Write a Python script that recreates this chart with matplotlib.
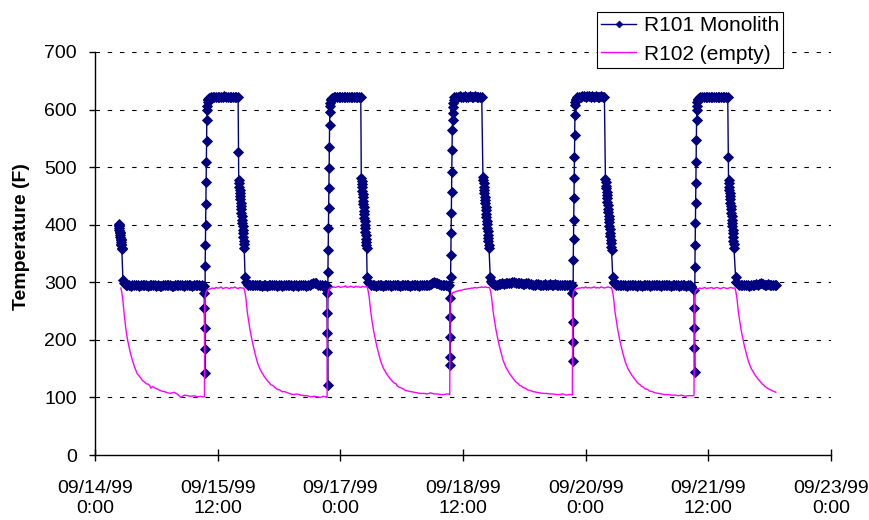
import numpy as np
import matplotlib
matplotlib.use("Agg")
import matplotlib.pyplot as plt

# ---------------------------------------------------------------------------
# Logged reactor temperatures, hours after 09/14/99 0:00, temperature in F.
# Each segment is (start hour, step in hours or list of offsets, readings).
# ---------------------------------------------------------------------------

# R101 monolith: low plateaus (half-hour readings)
r101_low1 = [296, 295, 295, 294, 295, 296, 295, 295, 294, 295,
             296, 295, 295, 294, 295, 295, 296, 295, 294, 295,
             294, 294, 295, 296, 295, 295, 295, 294, 294, 295,
             295, 296, 295, 295, 294, 295, 296, 295, 295, 294,
             295, 296, 295, 295, 294, 295, 294]
r101_low2 = [296, 295, 295, 296, 295, 295, 296, 295, 294, 295,
             295, 294, 295, 295, 296, 295, 295, 294, 295, 295,
             294, 295, 295, 296, 295, 295, 294, 295, 295, 294,
             295, 296, 295, 295, 294, 295, 296, 297, 298, 299,
             298, 296, 295, 295, 294, 295, 294]
r101_low3 = [296, 295, 295, 294, 295, 295, 295, 294, 295, 296,
             295, 295, 294, 295, 296, 295, 295, 294, 295, 295,
             296, 295, 295, 294, 295, 296, 295, 295, 294, 295,
             295, 296, 295, 296, 295, 297, 299, 300, 299, 298,
             297, 296, 296, 295, 295, 294, 295]
r101_low4 = [297, 296, 296, 297, 297, 298, 297, 298, 298, 299,
             299, 300, 300, 299, 299, 298, 298, 297, 297, 298,
             298, 297, 297, 296, 296, 297, 297, 296, 296, 296,
             297, 296, 296, 297, 296, 296, 297, 296, 296, 295,
             296, 296, 295, 296, 295, 295, 295]
r101_low5 = [296, 295, 295, 296, 295, 295, 294, 295, 295, 295,
             296, 295, 294, 295, 295, 294, 295, 296, 295, 295,
             294, 295, 295, 296, 295, 295, 294, 295, 295, 296,
             295, 295, 294, 295, 295, 296, 295, 294, 295, 295,
             295, 294, 295, 295, 294]
r101_low6 = [296, 295, 295, 296, 295, 295, 294, 295, 295, 296,
             297, 296, 297, 298, 297, 296, 296, 297, 296, 296,
             295, 296, 296]

# hot plateaus
r101_top1 = [620, 621, 621, 622, 621, 622, 622, 621, 622, 623, 622, 621,
             622, 622, 621, 622, 621, 621]
r101_top2 = [620, 621, 622, 621, 622, 622, 621, 622, 622, 621, 622, 621,
             622, 621, 622, 621, 622, 621]
r101_top3 = [621, 622, 622, 623, 622, 622, 623, 622, 622, 623, 622, 622,
             623, 622, 622, 621, 622]
r101_top4 = [621, 622, 622, 623, 623, 622, 623, 623, 622, 623, 622, 623,
             622, 622, 623, 622, 622]
r101_top5 = [620, 621, 621, 622, 621, 622, 621, 622, 622, 621, 622, 621,
             621, 622, 621, 622, 621, 621]

# cool-down after each hot period
r101_cool1 = [527, 477, 472, 466, 461, 455, 450, 444, 438, 433, 427, 421,
              415, 409, 403, 397, 391, 385, 378, 372, 366, 359]
r101_cool2 = [481, 476, 470, 465, 459, 453, 448, 442, 436, 430, 424, 418,
              412, 406, 400, 394, 388, 382, 376, 370, 364, 359]
r101_cool3 = [483, 477, 472, 466, 460, 455, 449, 443, 437, 431, 425, 419,
              413, 407, 401, 395, 389, 383, 377, 371, 365, 359]
r101_cool4 = [479, 474, 468, 463, 457, 451, 446, 440, 434, 428, 422, 416,
              410, 404, 398, 392, 386, 380, 374, 368, 362, 356]
r101_cool5 = [517, 477, 472, 466, 461, 455, 450, 444, 438, 433, 427, 421,
              415, 409, 403, 397, 391, 385, 378, 372, 366, 359]

r101_segments = [
    (6.9, 0.065, [402, 400, 397, 394, 391, 388, 385, 382, 379, 376, 373,
                  370, 367, 364, 360, 357]),
    (8.2, 0.3, [304, 299]),
    (9.0, 0.5, r101_low1),
    (32.05, 0.05, [281, 255, 220, 184, 143]),
    (32.33, 0.07, [328, 364, 399, 436, 474, 509, 545, 582, 599]),
    (32.97, 0.1, [607, 613, 617, 619]),
    (33.5, 0.5, r101_top1),
    (42.1, 0.08, r101_cool1),
    (44.05, 0.25, [309, 301, 298]),
    (45.0, 0.5, r101_low2),
    (68.08, 0.05, [281, 247, 212, 179, 122]),
    (68.36, 0.07, [318, 356, 394, 429, 464, 498, 535, 573, 595]),
    (69.0, 0.1, [606, 612, 616, 619]),
    (69.5, 0.5, r101_top2),
    (78.15, 0.075, r101_cool2),
    (79.85, 0.25, [309, 301, 298]),
    (81.0, 0.5, r101_low3),
    (104.08, 0.05, [273, 240, 205, 170, 156]),
    (104.36, 0.07, [309, 347, 385, 420, 457, 491, 529, 564, 582]),
    (105.0, 0.1, [594, 605, 612, 617]),
    (105.5, 0.5, r101_top3),
    (113.85, 0.085, r101_cool3),
    (116.0, 0.25, [309, 302, 299]),
    (117.0, 0.5, r101_low4),
    (140.08, 0.05, [295, 281, 231, 196, 163]),
    (140.36, 0.07, [339, 375, 408, 446, 481, 517, 556, 590, 608]),
    (141.0, 0.1, [613, 617, 619]),
    (141.5, 0.5, r101_top4),
    (149.8, 0.085, r101_cool4),
    (151.95, 0.25, [309, 301, 298]),
    (153.0, 0.5, r101_low5),
    (175.78, 0.05, [287, 255, 220, 186, 144]),
    (176.06, 0.07, [326, 365, 403, 438, 472, 509, 547, 582, 599]),
    (176.7, 0.1, [607, 613, 617, 619]),
    (177.2, 0.5, r101_top5),
    (185.85, 0.08, r101_cool5),
    (188.0, 0.25, [309, 301, 298]),
    (189.0, 0.5, r101_low6),
]

# R102 empty reactor: cool-down curves are logged on this offset schedule
decay_offsets = [0, 0.3, 0.6, 1.0, 1.4, 1.8, 2.3, 2.8, 3.4, 4.0, 4.8, 5.4,
                 5.9, 6.4, 6.9, 7.4, 7.9, 8.4, 8.8, 9.3, 9.8, 10.5, 11.2,
                 12.0, 12.8, 13.7, 14.6, 15.6, 16.7, 17.6, 18.6, 19.6, 20.6,
                 21.5, 22.5, 23.3, 24.0]

r102_decay0 = [290, 281, 268, 242, 222, 205, 190, 177, 164, 153, 141, 137,
               133, 129, 127, 124, 123, 121, 116, 119, 117, 115, 113, 111,
               110, 108, 107, 109, 105, 100, 104, 103, 102, 103, 101, 102,
               101]
r102_decay1 = [290, 283, 272, 248, 232, 217, 202, 188, 173, 160, 148, 142,
               137, 133, 129, 126, 122, 121, 119, 116, 114, 113, 110, 110,
               108, 106, 105, 106, 104, 103, 103, 101, 102, 101, 100, 102,
               101]
r102_decay2 = [292, 284, 273, 250, 233, 218, 203, 189, 175, 162, 150, 144,
               139, 135, 131, 128, 125, 124, 120, 118, 117, 115, 112, 111,
               110, 109, 108, 107, 107, 106, 108, 106, 106, 105, 105, 106,
               106]
r102_decay3 = [291, 284, 273, 251, 235, 220, 205, 191, 177, 164, 152, 146,
               141, 137, 133, 129, 126, 124, 121, 120, 117, 116, 113, 112,
               110, 109, 108, 107, 107, 106, 106, 105, 105, 106, 104, 105,
               105]
r102_decay4 = [291, 283, 272, 249, 233, 218, 203, 189, 175, 162, 150, 144,
               139, 135, 131, 127, 124, 122, 119, 118, 115, 114, 111, 110,
               108, 107, 106, 105, 105, 104, 104, 103, 104, 102, 103, 103,
               103]
r102_decay5 = [290, 283, 272, 249, 233, 218, 203, 189, 175, 162, 150, 144,
               139, 135, 131, 128, 124, 122, 119, 117, 115, 113, 111, 109]

r102_hot1 = [288, 289, 290, 289, 291, 290, 290, 292, 289, 290, 291, 290,
             289, 291, 290, 292, 290, 289, 291, 290, 290]
r102_hot2 = [291, 292, 291, 292, 293, 291, 292, 292, 294, 291, 292, 293,
             292, 291, 293, 292, 292, 291, 293, 292, 292]
r102_hot3 = [283, 284, 285, 286, 286, 287, 288, 288, 289, 289, 290, 290,
             291, 290, 291, 291, 292, 291, 292, 291, 291]
r102_hot4 = [289, 290, 290, 291, 290, 292, 290, 291, 290, 291, 292, 290,
             291, 290, 292, 291, 290, 291, 292, 291, 290]
r102_hot5 = [289, 290, 289, 290, 291, 289, 290, 290, 291, 289, 290, 291,
             290, 289, 290, 291, 290, 289, 290, 291, 290, 290]

r102_segments = [
    (7.6, decay_offsets, r102_decay0),
    (32.0, [0, 0.12, 0.18, 0.35, 0.6, 1.0], [101, 102, 262, 276, 283, 287]),
    (33.5, 0.5, r102_hot1),
    (43.7, decay_offsets, r102_decay1),
    (68.0, [0, 0.12, 0.18, 0.35, 0.6, 1.0], [100, 101, 265, 280, 287, 290]),
    (69.5, 0.5, r102_hot2),
    (79.9, decay_offsets, r102_decay2),
    (104.0, [0, 0.12, 0.18, 0.35, 0.6, 1.0], [105, 106, 262, 272, 278, 282]),
    (105.5, 0.5, r102_hot3),
    (115.8, decay_offsets, r102_decay3),
    (140.0, [0, 0.1, 0.16, 0.35, 0.6, 1.0], [104, 105, 268, 280, 285, 288]),
    (141.5, 0.5, r102_hot4),
    (151.6, decay_offsets, r102_decay4),
    (175.7, [0, 0.1, 0.16, 0.35, 0.6, 1.0], [103, 104, 266, 279, 285, 288]),
    (177.0, 0.5, r102_hot5),
    (187.8, decay_offsets, r102_decay5),
]

tick_labels = ["09/14/99\n0:00", "09/15/99\n12:00", "09/17/99\n0:00",
               "09/18/99\n12:00", "09/20/99\n0:00", "09/21/99\n12:00",
               "09/23/99\n0:00"]
y_ticks = [0, 100, 200, 300, 400, 500, 600, 700]


def expand(segments):
    hours, temps = [], []
    for t0, step, values in segments:
        for i, v in enumerate(values):
            dt = step[i] if isinstance(step, (list, tuple)) else i * step
            hours.append(t0 + dt)
            temps.append(v)
    return np.array(hours), np.array(temps, dtype=float)


start = np.datetime64("1999-09-14T00:00:00")


def to_time(hours):
    return start + np.round(np.asarray(hours) * 3600).astype("timedelta64[s]")


h1, t1 = expand(r101_segments)
h2, t2 = expand(r102_segments)

plt.rcParams["font.family"] = ["Liberation Sans", "DejaVu Sans"]

fig = plt.figure(figsize=(8.69, 5.2), dpi=100)
ax = fig.add_axes([95 / 869, 1 - 455 / 520, 736 / 869, 403 / 520])

ax.plot(to_time(h1), t1, color="#000080", lw=1.0, marker="D", ms=5.2,
        mfc="#000080", mec="#000080", mew=0.6, label="R101 Monolith",
        zorder=3)
ax.plot(to_time(h2), t2, color="#FF00FF", lw=1.0, label="R102 (empty)",
        zorder=4)

ax.set_ylim(0, 700)
ax.set_yticks(y_ticks)
ax.set_xlim(to_time(0), to_time(216))
ax.set_xticks(to_time(np.arange(0, 217, 36)))
ax.set_xticklabels(tick_labels)

for y in y_ticks[1:]:
    ax.axhline(y, color="black", lw=0.8, linestyle=(0, (4, 7)), zorder=1)

for side in ("top", "right"):
    ax.spines[side].set_visible(False)
for side in ("left", "bottom"):
    ax.spines[side].set_linewidth(1.0)
    ax.spines[side].set_color("black")

ax.tick_params(axis="y", direction="out", length=4, width=1.0, pad=9,
               labelsize=14)
ax.tick_params(axis="x", direction="inout", length=8, width=1.0, pad=14,
               labelsize=14)

ax.set_ylabel("Temperature (F)", fontsize=14, fontweight="bold")
ax.yaxis.set_label_coords(-0.088, 0.543)

leg = ax.legend(loc="upper right", bbox_to_anchor=(783 / 869, 1 - 12 / 520),
                bbox_transform=fig.transFigure, fontsize=15, frameon=True,
                fancybox=False, edgecolor="black", framealpha=1,
                borderpad=0.2, labelspacing=0.45, handlelength=1.7,
                handletextpad=0.35, borderaxespad=0, markerscale=0.65)
leg.get_frame().set_linewidth(0.8)

fig.savefig("out.png", dpi=100)
